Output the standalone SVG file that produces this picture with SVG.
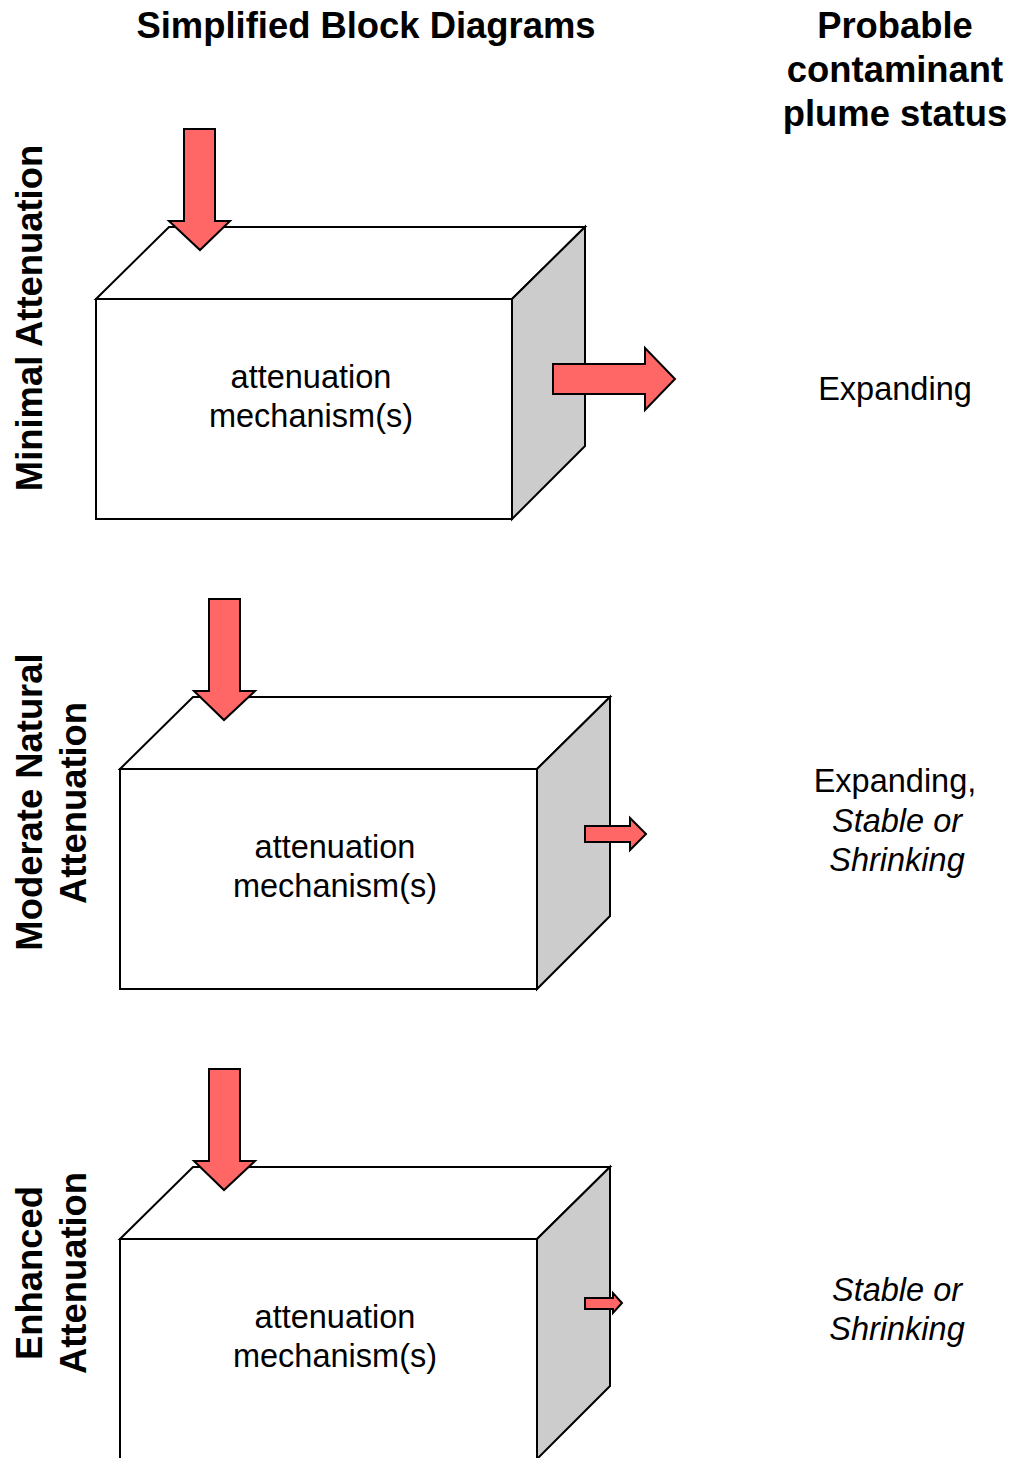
<svg xmlns="http://www.w3.org/2000/svg" width="1013" height="1458" viewBox="0 0 1013 1458">
<defs>
<style>
.hdr{font-family:"Liberation Sans",Arial,sans-serif;font-weight:bold;font-size:36.4px;fill:#000;text-anchor:middle}
.lbl{font-family:"Liberation Sans",Arial,sans-serif;font-size:32.5px;fill:#000;text-anchor:middle}
.it{font-style:italic}
.face{fill:#fff;stroke:#000;stroke-width:2;stroke-linejoin:miter}
.side{fill:#cccccc;stroke:#000;stroke-width:2}
.arr{fill:#ff6666;stroke:#000;stroke-width:2;stroke-linejoin:miter}
</style>
</defs>
<rect width="1013" height="1458" fill="#fff"/>
<text class="hdr" x="366" y="38">Simplified Block Diagrams</text>
<g id="header-right">
<text class="hdr" x="895" y="38">Probable</text>
<text class="hdr" x="895" y="82">contaminant</text>
<text class="hdr" x="895" y="126">plume status</text>
</g>
<g id="row-labels">
<text class="hdr" transform="translate(42,318) rotate(-90)">Minimal Attenuation</text>
<text class="hdr" transform="translate(42,802) rotate(-90)">Moderate Natural</text>
<text class="hdr" transform="translate(86,803) rotate(-90)">Attenuation</text>
<text class="hdr" transform="translate(42,1273) rotate(-90)">Enhanced</text>
<text class="hdr" transform="translate(86,1273) rotate(-90)">Attenuation</text>
</g>
<g id="block1">
<polygon class="face" points="96,299 169,227 585,227 512,299"/>
<polygon class="side" points="512,299 585,227 585,446 512,519"/>
<rect class="face" x="96" y="299" width="416" height="220"/>
<text class="lbl" x="311" y="388">attenuation</text>
<text class="lbl" x="311" y="427">mechanism(s)</text>
</g>
<g id="block2">
<polygon class="face" points="120,769 193,697 610,697 537,769"/>
<polygon class="side" points="537,769 610,697 610,916 537,989"/>
<rect class="face" x="120" y="769" width="417" height="220"/>
<text class="lbl" x="335" y="858">attenuation</text>
<text class="lbl" x="335" y="897">mechanism(s)</text>
</g>
<g id="block3">
<polygon class="face" points="120,1239 193,1167 610,1167 537,1239"/>
<polygon class="side" points="537,1239 610,1167 610,1386 537,1459"/>
<rect class="face" x="120" y="1239" width="417" height="222"/>
<text class="lbl" x="335" y="1328">attenuation</text>
<text class="lbl" x="335" y="1367">mechanism(s)</text>
</g>
<g id="status">
<text class="lbl" x="895" y="400">Expanding</text>
<text class="lbl" x="895" y="792">Expanding,</text>
<text class="lbl it" x="897" y="832">Stable or</text>
<text class="lbl it" x="897" y="871">Shrinking</text>
<text class="lbl it" x="897" y="1301">Stable or</text>
<text class="lbl it" x="897" y="1340">Shrinking</text>
</g>
<g id="connectors">
<polygon class="arr" points="184,129 215,129 215,221 230,221 200,250 169,221 184,221"/>
<polygon class="arr" points="209,599 240,599 240,691 255,691 224,720 194,691 209,691"/>
<polygon class="arr" points="209,1069 240,1069 240,1161 255,1161 224,1190 194,1161 209,1161"/>
<polygon class="arr" points="553,364 645,364 645,348 675,379 645,410 645,394 553,394"/>
<polygon class="arr" points="585,826 630,826 630,818 646,834 630,850 630,842 585,842"/>
<polygon class="arr" points="585,1298 613,1298 613,1293 622,1303 613,1313 613,1309 585,1309"/>
</g>
</svg>
